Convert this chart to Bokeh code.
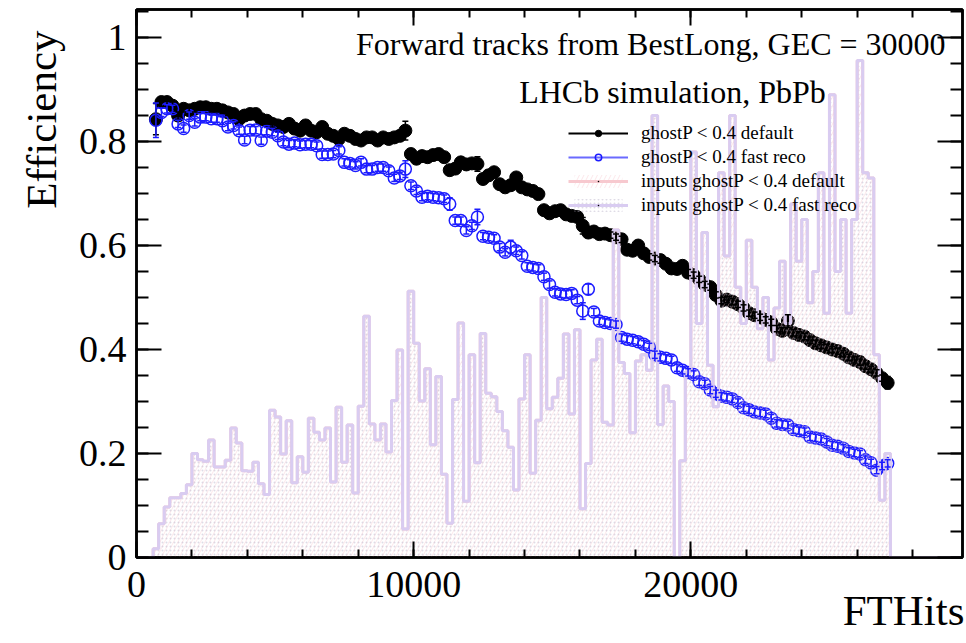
import math
from bokeh.plotting import figure
from bokeh.models import (Range1d, LinearAxis, FixedTicker, CustomJSTickFormatter, Legend,
                          LegendItem, ColumnDataSource, Whisker, TeeHead, Title)
from bokeh.core.properties import value
from bokeh.embed import file_html
from bokeh.resources import INLINE

FONT = "Liberation Serif"
NAN = float("nan")

# ---------------- data ----------------
# bin centres of the efficiency points (FTHits), 200-wide bins
fthits = list(range(700, 27101, 200))

eff_default = [
    0.843, 0.876, 0.876, 0.869, 0.850, 0.863, 0.860, 0.863, 0.866, 0.866,
    0.863, 0.863, 0.860, 0.856, 0.853, 0.843, 0.850, 0.853, 0.853, 0.843,
    0.840, 0.834, 0.831, 0.828, 0.834, 0.825, 0.821, 0.831, 0.821, 0.818,
    0.828, 0.815, 0.811, 0.805, 0.815, 0.811, 0.805, 0.802, 0.808, 0.808,
    0.802, 0.808, 0.805, 0.808, 0.811, 0.821, 0.776, 0.767, 0.772, 0.770,
    0.774, 0.776, 0.770, 0.745, 0.748, 0.760, 0.756, 0.758, 0.757, 0.728,
    0.735, 0.741, 0.718, 0.712, 0.716, 0.731, 0.712, 0.708, 0.705, 0.699,
    0.668, 0.662, 0.666, 0.668, 0.660, 0.657, 0.655, 0.638, 0.625, 0.627,
    0.622, 0.623, 0.620, 0.616, 0.612, 0.592, 0.590, 0.600, 0.585, 0.578,
    0.575, 0.572, 0.565, 0.556, 0.555, 0.561, 0.548, 0.543, 0.535, 0.525,
    0.520, 0.505, 0.494, 0.496, 0.492, 0.487, 0.480, 0.470, 0.466, 0.462,
    0.457, 0.452, 0.440, 0.436, 0.455, 0.432, 0.428, 0.425, 0.418, 0.412,
    0.408, 0.404, 0.400, 0.397, 0.392, 0.385, 0.380, 0.376, 0.368, 0.362,
    0.355, 0.345, 0.336]

err_default = [
    0.030, 0.008, 0.008, 0.007, 0.007, 0.006, 0.006, 0.006, 0.006, 0.006,
    0.006, 0.006, 0.006, 0.006, 0.006, 0.006, 0.006, 0.006, 0.006, 0.006,
    0.006, 0.006, 0.006, 0.006, 0.006, 0.006, 0.006, 0.006, 0.006, 0.006,
    0.006, 0.006, 0.006, 0.006, 0.006, 0.006, 0.006, 0.006, 0.006, 0.006,
    0.006, 0.006, 0.006, 0.006, 0.006, 0.018, 0.006, 0.006, 0.006, 0.006,
    0.006, 0.006, 0.006, 0.006, 0.006, 0.006, 0.006, 0.006, 0.014, 0.006,
    0.006, 0.006, 0.006, 0.006, 0.006, 0.006, 0.006, 0.006, 0.006, 0.006,
    0.006, 0.006, 0.006, 0.006, 0.006, 0.006, 0.006, 0.016, 0.006, 0.006,
    0.006, 0.006, 0.006, 0.006, 0.006, 0.006, 0.006, 0.006, 0.006, 0.006,
    0.006, 0.006, 0.006, 0.006, 0.006, 0.006, 0.006, 0.006, 0.006, 0.006,
    0.006, 0.006, 0.006, 0.006, 0.006, 0.006, 0.006, 0.006, 0.006, 0.006,
    0.006, 0.006, 0.006, 0.006, 0.012, 0.006, 0.006, 0.006, 0.006, 0.006,
    0.006, 0.006, 0.006, 0.006, 0.006, 0.006, 0.006, 0.006, 0.006, 0.006,
    0.006, 0.006, 0.012]

eff_fast = [
    0.841, 0.856, 0.863, 0.863, 0.834, 0.825, 0.850, 0.837, 0.847, 0.847,
    0.844, 0.844, 0.840, 0.828, 0.831, 0.821, 0.803, 0.822, 0.822, 0.802,
    0.820, 0.818, 0.811, 0.799, 0.795, 0.797, 0.794, 0.795, 0.795, 0.792,
    0.775, 0.775, 0.776, 0.783, 0.760, 0.758, 0.754, 0.760, 0.747, 0.747,
    0.750, 0.750, 0.744, 0.730, 0.734, 0.747, 0.715, 0.705, 0.693, 0.695,
    0.693, 0.692, 0.690, 0.680, 0.648, 0.648, 0.629, 0.638, 0.655, 0.618,
    0.616, 0.614, 0.597, 0.587, 0.597, 0.590, 0.581, 0.560, 0.558, 0.556,
    0.540, 0.525, 0.510, 0.507, 0.506, 0.508, 0.495, 0.474, 0.516, 0.472,
    0.455, 0.452, 0.450, 0.448, 0.423, 0.420, 0.418, 0.415, 0.410, 0.405,
    0.390, 0.385, 0.383, 0.380, 0.365, 0.360, 0.356, 0.352, 0.338, 0.334,
    0.322, 0.315, 0.310, 0.308, 0.305, 0.298, 0.288, 0.284, 0.280, 0.278,
    0.276, 0.268, 0.258, 0.256, 0.255, 0.246, 0.244, 0.242, 0.232, 0.230,
    0.228, 0.222, 0.216, 0.214, 0.210, 0.204, 0.201, 0.199, 0.188, 0.182,
    0.168, 0.176, 0.181]

err_fast = [
    0.033, 0.008, 0.008, 0.007, 0.007, 0.007, 0.007, 0.007, 0.007, 0.007,
    0.007, 0.007, 0.007, 0.007, 0.007, 0.007, 0.007, 0.007, 0.007, 0.007,
    0.007, 0.007, 0.007, 0.007, 0.007, 0.007, 0.007, 0.007, 0.007, 0.007,
    0.007, 0.007, 0.007, 0.007, 0.007, 0.007, 0.007, 0.007, 0.007, 0.007,
    0.007, 0.007, 0.007, 0.007, 0.007, 0.016, 0.007, 0.007, 0.007, 0.007,
    0.007, 0.007, 0.007, 0.012, 0.007, 0.007, 0.007, 0.007, 0.015, 0.007,
    0.007, 0.007, 0.007, 0.007, 0.013, 0.007, 0.007, 0.007, 0.007, 0.007,
    0.007, 0.007, 0.007, 0.007, 0.007, 0.007, 0.007, 0.016, 0.010, 0.007,
    0.007, 0.007, 0.007, 0.007, 0.007, 0.007, 0.007, 0.007, 0.007, 0.007,
    0.007, 0.007, 0.007, 0.007, 0.007, 0.007, 0.007, 0.007, 0.007, 0.007,
    0.007, 0.007, 0.007, 0.007, 0.007, 0.007, 0.007, 0.007, 0.007, 0.007,
    0.007, 0.007, 0.007, 0.007, 0.007, 0.007, 0.007, 0.007, 0.007, 0.007,
    0.007, 0.007, 0.007, 0.007, 0.007, 0.007, 0.007, 0.007, 0.007, 0.007,
    0.007, 0.007, 0.007]

# input FTHits distribution (arbitrary normalisation), 200-wide bins from 0 to 29800
hist_edges = list(range(0, 29801, 200))
hist_inputs = [
    0.000, 0.000, 0.000, 0.017, 0.065, 0.097, 0.115, 0.115, 0.123, 0.140,
    0.200, 0.188, 0.185, 0.226, 0.174, 0.174, 0.187, 0.249, 0.220, 0.167,
    0.166, 0.183, 0.142, 0.121, 0.283, 0.270, 0.199, 0.263, 0.144, 0.194,
    0.164, 0.268, 0.241, 0.226, 0.249, 0.145, 0.289, 0.183, 0.255, 0.124,
    0.291, 0.464, 0.257, 0.226, 0.257, 0.203, 0.302, 0.399, 0.055, 0.512,
    0.412, 0.301, 0.363, 0.217, 0.348, 0.160, 0.066, 0.304, 0.451, 0.108,
    0.390, 0.182, 0.431, 0.316, 0.309, 0.281, 0.244, 0.212, 0.130, 0.305,
    0.390, 0.162, 0.264, 0.500, 0.286, 0.308, 0.345, 0.430, 0.276, 0.438,
    0.094, 0.181, 0.380, 0.420, 0.260, 0.255, 0.630, 0.375, 0.354, 0.240,
    0.378, 0.390, 0.360, 0.850, 0.256, 0.330, 0.300, 0.000, 0.186, 0.357,
    0.780, 0.450, 0.625, 0.370, 0.290, 0.740, 0.580, 0.850, 0.520, 0.450,
    0.610, 0.520, 0.440, 0.500, 0.380, 0.480, 0.570, 0.450, 0.680, 0.570,
    0.650, 0.490, 0.550, 0.740, 0.470, 0.890, 0.550, 0.650, 0.470, 0.650,
    0.956, 0.740, 0.730, 0.390, 0.110, 0.200, 0.000, 0.000, 0.000, 0.000,
    0.000, 0.000, 0.000, 0.000, 0.000, 0.000, 0.000, 0.000, 0.000]

x_ticks = [0, 10000, 20000]
x_minor = [0, 2000, 4000, 6000, 8000, 10000, 12000, 14000, 16000, 18000,
           20000, 22000, 24000, 26000, 28000]
y_ticks = [0, 0.2, 0.4, 0.6, 0.8, 1.0]
y_minor = [0, 0.05, 0.1, 0.15, 0.2, 0.25, 0.3, 0.35, 0.4, 0.45, 0.5,
           0.55, 0.6, 0.65, 0.7, 0.75, 0.8, 0.85, 0.9, 0.95, 1.0, 1.05]

# ---------------- figure ----------------
BLACK = "#000000"
BLUE = "#1c1cff"
BLUE_LINE = "#6a6aff"
LAV = "#d9ccf1"
PINK = "#f7c9cf"

p = figure(width=966, height=643, x_range=Range1d(0, 29800), y_range=Range1d(0, 1.054),
           output_backend="svg", toolbar_location=None,
           min_border_left=136, min_border_right=4, min_border_top=9, min_border_bottom=86)
p.grid.visible = False
p.outline_line_color = "black"
p.outline_line_width = 2.5
p.background_fill_color = "white"
p.border_fill_color = "white"

TICK_FS = "38px"

def style_axis(ax, ticker, maj_in, min_in, labels):
    ax.ticker = ticker
    ax.axis_line_width = 2.5
    ax.axis_line_color = "black"
    ax.major_tick_in = maj_in
    ax.major_tick_out = 0
    ax.minor_tick_in = min_in
    ax.minor_tick_out = 0
    ax.major_tick_line_width = 2
    ax.minor_tick_line_width = 2
    ax.major_label_text_font = FONT
    ax.major_label_text_font_size = TICK_FS
    ax.major_label_text_color = "black"
    if not labels:
        ax.formatter = CustomJSTickFormatter(code="return '';")
        ax.major_label_standoff = 0

xticker = FixedTicker(ticks=x_ticks, minor_ticks=x_minor)
yticker = FixedTicker(ticks=y_ticks, minor_ticks=y_minor)

xa = p.xaxis[0]
ya = p.yaxis[0]
style_axis(xa, xticker, 16, 8, True)
xa.formatter = CustomJSTickFormatter(code="return Math.round(tick).toString();")
xa.major_label_standoff = 14
style_axis(ya, yticker, 25, 12, True)
ya.formatter = CustomJSTickFormatter(code="return (Math.round(tick*10)/10).toString();")
ya.major_label_standoff = 10

top_ax = LinearAxis()
style_axis(top_ax, FixedTicker(ticks=x_ticks, minor_ticks=x_minor), 16, 8, False)
p.add_layout(top_ax, "above")
right_ax = LinearAxis()
style_axis(right_ax, FixedTicker(ticks=y_ticks, minor_ticks=y_minor), 25, 12, False)
p.add_layout(right_ax, "right")

# axis titles (ROOT style: at the end of the axis)
p.add_layout(Title(text="Efficiency", align="right", text_font=FONT, text_font_size="43px",
                   text_font_style="normal", text_color="black", standoff=22, offset=21), "left")
p.add_layout(Title(text="FTHits", align="right", text_font=FONT, text_font_size="43px",
                   text_font_style="normal", text_color="black", standoff=-30, offset=-2), "below")

# ---------------- efficiency points ----------------
src_def = ColumnDataSource(dict(x=fthits, y=eff_default,
                                lo=[v - e for v, e in zip(eff_default, err_default)],
                                up=[v + e for v, e in zip(eff_default, err_default)]))
src_fast = ColumnDataSource(dict(x=fthits, y=eff_fast,
                                 lo=[v - e for v, e in zip(eff_fast, err_fast)],
                                 up=[v + e for v, e in zip(eff_fast, err_fast)]))

w_def = Whisker(source=src_def, base="x", lower="lo", upper="up", line_color=BLACK, line_width=1.5,
                upper_head=TeeHead(size=6, line_color=BLACK, line_width=1.5),
                lower_head=TeeHead(size=6, line_color=BLACK, line_width=1.5), level="glyph")
p.add_layout(w_def)
r_def = p.scatter("x", "y", source=src_def, marker="circle", size=13,
                  fill_color=BLACK, line_color=BLACK)

w_fast = Whisker(source=src_fast, base="x", lower="lo", upper="up", line_color=BLUE, line_width=1.5,
                 upper_head=TeeHead(size=6, line_color=BLUE, line_width=1.5),
                 lower_head=TeeHead(size=6, line_color=BLUE, line_width=1.5), level="glyph")
p.add_layout(w_fast)
r_fast = p.scatter("x", "y", source=src_fast, marker="circle", size=12,
                   fill_color=None, line_color=BLUE, line_width=1.5)

# ---------------- input histograms ----------------
hist_y = hist_inputs + [hist_inputs[-1]]
zeros = [0] * len(hist_edges)
r_h1 = p.varea_step(x=hist_edges, y1=zeros, y2=hist_y, step_mode="after",
                    fill_color=None, fill_alpha=0, hatch_pattern="right_diagonal_line",
                    hatch_color=PINK, hatch_alpha=0.55, hatch_scale=9, hatch_weight=0.8)
r_h2 = p.varea_step(x=hist_edges, y1=zeros, y2=hist_y, step_mode="after",
                    fill_color=None, fill_alpha=0, hatch_pattern="dot",
                    hatch_color="#b9b0c8", hatch_alpha=0.45, hatch_scale=4, hatch_weight=1)
r_l1 = p.step(x=hist_edges, y=hist_y, mode="after", line_color=PINK, line_width=3)
r_l2 = p.step(x=hist_edges, y=hist_y, mode="after", line_color=LAV, line_width=3)

# ---------------- legend ----------------
d_line_def = p.line(x=[NAN], y=[NAN], line_color=BLACK, line_width=2.2)
d_line_fast = p.line(x=[NAN], y=[NAN], line_color=BLUE_LINE, line_width=2.2)
d_line_pink = p.line(x=[NAN], y=[NAN], line_color=PINK, line_width=3)
d_line_lav = p.line(x=[NAN], y=[NAN], line_color=LAV, line_width=3)
d_dot = p.scatter(x=[NAN], y=[NAN], marker="dot", size=5, color="black")

legend = Legend(items=[
    LegendItem(label="ghostP < 0.4 default", renderers=[d_line_def, r_def]),
    LegendItem(label="ghostP < 0.4 fast reco", renderers=[d_line_fast, r_fast]),
    LegendItem(label="inputs ghostP < 0.4 default", renderers=[r_h1, d_line_pink, d_dot]),
    LegendItem(label="inputs ghostP < 0.4 fast reco", renderers=[r_h2, d_line_lav, d_dot]),
], location=(432, 341), orientation="vertical",
    label_text_font=FONT, label_text_font_size="19px", label_text_color="black",
    glyph_width=60, glyph_height=16, label_height=20, label_standoff=13, spacing=2,
    padding=0, margin=0, border_line_color=None, background_fill_alpha=0)
p.add_layout(legend)

# ---------------- texts ----------------
p.text(x=[29190], y=[0.987], text=["Forward tracks from BestLong, GEC = 30000"],
       text_align="right", text_baseline="alphabetic",
       text_font=value(FONT), text_font_size=value("32px"), text_color="black")
p.text(x=[24870], y=[0.896], text=["LHCb simulation, PbPb"],
       text_align="right", text_baseline="alphabetic",
       text_font=value(FONT), text_font_size=value("32px"), text_color="black")

open("out.html", "w").write(file_html(p, INLINE))
